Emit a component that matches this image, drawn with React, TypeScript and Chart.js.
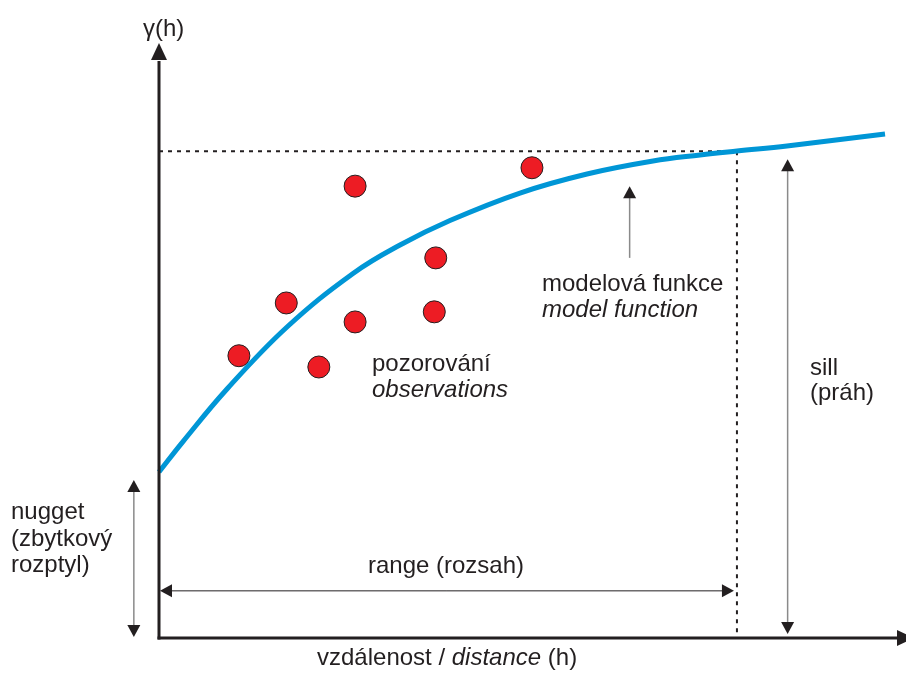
import { useEffect, useRef } from "react";
import { Chart, registerables } from "chart.js";

Chart.register(...registerables);

// Model variogram curve, distance vs gamma
const MODEL_X = [0, 3.24, 9.19, 17.3, 26.22, 32.57, 39.32, 48.78, 57.84, 66.76, 73.11, 78.11, 84.86, 98.11];
const MODEL_Y = [28.0, 33.12, 41.99, 52.45, 61.47, 66.27, 70.4, 75.04, 78.25, 80.44, 81.45, 82.12, 82.97, 84.99];

// Observations
const OBS_X = [10.8, 17.2, 21.6, 26.5, 26.5, 37.2, 37.4, 50.4];
const OBS_Y = [47.6, 56.5, 45.7, 76.2, 53.3, 55.0, 64.1, 79.3];

// Variogram parameters
const SILL = 82.1;
const RANGE = 78.1;
const NUGGET = 28.0;

const INK = "#231f20";
const FONT = '"Liberation Sans", Arial, Helvetica, sans-serif';

function arrowHead(ctx: CanvasRenderingContext2D, tipX: number, tipY: number, dx: number, dy: number, len: number, w: number) {
  const bx = tipX - dx * len;
  const by = tipY - dy * len;
  const px = -dy, py = dx;
  ctx.beginPath();
  ctx.moveTo(tipX, tipY);
  ctx.lineTo(bx + px * w / 2, by + py * w / 2);
  ctx.lineTo(bx - px * w / 2, by - py * w / 2);
  ctx.closePath();
  ctx.fill();
}

function arrow(ctx: CanvasRenderingContext2D, x1: number, y1: number, x2: number, y2: number, both: boolean, shaftColor: string, shaftWidth: number, len: number, w: number) {
  const L = Math.hypot(x2 - x1, y2 - y1);
  const dx = (x2 - x1) / L, dy = (y2 - y1) / L;
  const sx = both ? x1 + dx * len * 0.8 : x1;
  const sy = both ? y1 + dy * len * 0.8 : y1;
  const ex = x2 - dx * len * 0.8, ey = y2 - dy * len * 0.8;
  ctx.save();
  ctx.strokeStyle = shaftColor;
  ctx.lineWidth = shaftWidth;
  ctx.setLineDash([]);
  ctx.beginPath();
  ctx.moveTo(sx, sy);
  ctx.lineTo(ex, ey);
  ctx.stroke();
  ctx.fillStyle = INK;
  arrowHead(ctx, x2, y2, dx, dy, len, w);
  if (both) arrowHead(ctx, x1, y1, -dx, -dy, len, w);
  ctx.restore();
}

function text(ctx: CanvasRenderingContext2D, parts: [string, boolean][], x: number, y: number, align: "left" | "center" = "left", size = 24) {
  ctx.save();
  ctx.fillStyle = INK;
  ctx.textBaseline = "alphabetic";
  ctx.textAlign = "left";
  let total = 0;
  const widths = parts.map(([s, it]) => {
    ctx.font = `${it ? "italic " : ""}${size}px ${FONT}`;
    const w = ctx.measureText(s).width;
    total += w;
    return w;
  });
  let cx = align === "center" ? x - total / 2 : x;
  parts.forEach(([s, it], i) => {
    ctx.font = `${it ? "italic " : ""}${size}px ${FONT}`;
    ctx.fillText(s, cx, y);
    cx += widths[i];
  });
  ctx.restore();
}

const variogramPlugin = {
  id: "variogram",
  beforeDatasetsDraw(chart: any) {
    const { ctx, scales } = chart;
    const x = scales.x, y = scales.y;
    ctx.save();
    ctx.strokeStyle = INK;
    ctx.lineWidth = 2;
    ctx.setLineDash([4, 5]);
    ctx.beginPath();
    ctx.moveTo(x.getPixelForValue(0), y.getPixelForValue(SILL));
    ctx.lineTo(x.getPixelForValue(RANGE), y.getPixelForValue(SILL));
    ctx.stroke();
    ctx.beginPath();
    ctx.moveTo(x.getPixelForValue(RANGE), y.getPixelForValue(SILL));
    ctx.lineTo(x.getPixelForValue(RANGE), y.getPixelForValue(0));
    ctx.stroke();
    ctx.restore();
  },
  afterDatasetsDraw(chart: any) {
    const { ctx, scales, chartArea } = chart;
    const x = scales.x, y = scales.y;
    const x0 = x.getPixelForValue(0);
    const y0 = y.getPixelForValue(0);
    const gray = "#8a8a8a";

    // Axes
    ctx.save();
    ctx.strokeStyle = INK;
    ctx.fillStyle = INK;
    ctx.lineWidth = 3;
    ctx.beginPath();
    ctx.moveTo(x0, y0 + 1.5);
    ctx.lineTo(x0, chartArea.top + 16);
    ctx.stroke();
    arrowHead(ctx, x0, chartArea.top - 2, 0, -1, 17, 16);
    ctx.beginPath();
    ctx.moveTo(x0 - 1.5, y0);
    ctx.lineTo(chartArea.right, y0);
    ctx.stroke();
    arrowHead(ctx, chartArea.right + 15, y0, 1, 0, 17, 16);
    ctx.restore();

    // Model function pointer
    const mx = x.getPixelForValue(63.6);
    arrow(ctx, mx, y.getPixelForValue(64.1), mx, y.getPixelForValue(76.2), false, gray, 1.5, 12, 13);

    // Sill double arrow
    const sx = x.getPixelForValue(84.95);
    arrow(ctx, sx, y0 - 4, sx, y.getPixelForValue(SILL) + 8, true, gray, 1.5, 12, 13);

    // Nugget double arrow
    const nx = x.getPixelForValue(-3.4);
    arrow(ctx, nx, y0 - 1, nx, y.getPixelForValue(NUGGET) + 8, true, gray, 1.5, 12, 13);

    // Range double arrow
    const ry = y.getPixelForValue(7.95);
    arrow(ctx, x0 + 1, ry, x.getPixelForValue(RANGE) - 3, ry, true, INK, 1, 12, 13);
  },
  afterDraw(chart: any) {
    const { ctx } = chart;
    text(ctx, [["γ(h)", false]], 143, 36);
    text(ctx, [["modelová funkce", false]], 542, 291);
    text(ctx, [["model function", true]], 542, 317);
    text(ctx, [["pozorování", false]], 372, 371);
    text(ctx, [["observations", true]], 372, 397);
    text(ctx, [["sill", false]], 810, 375);
    text(ctx, [["(práh)", false]], 810, 400);
    text(ctx, [["nugget", false]], 11, 519);
    text(ctx, [["(zbytkový", false]], 11, 546);
    text(ctx, [["rozptyl)", false]], 11, 572);
    text(ctx, [["range (rozsah)", false]], 446, 573, "center");
    text(ctx, [["vzdálenost / ", false], ["distance", true], [" (h)", false]], 317, 665);
  },
};

export default function App() {
  const ref = useRef<HTMLCanvasElement | null>(null);
  useEffect(() => {
    if (!ref.current) return;
    const chart = new Chart(ref.current, {
      type: "scatter",
      data: {
        datasets: [
          {
            type: "line",
            data: MODEL_X.map((v, i) => ({ x: v, y: MODEL_Y[i] })),
            borderColor: "#0096d6",
            borderWidth: 5,
            pointRadius: 0,
            tension: 0.4,
            fill: false,
            clip: false,
            borderCapStyle: "butt",
            order: 2,
          } as any,
          {
            type: "scatter",
            data: OBS_X.map((v, i) => ({ x: v, y: OBS_Y[i] })),
            backgroundColor: "#ed1c24",
            borderColor: INK,
            borderWidth: 1,
            pointRadius: 11,
            clip: false,
            order: 1,
          } as any,
        ],
      },
      options: {
        animation: false,
        responsive: false,
        events: [],
        layout: { autoPadding: false, padding: { left: 159, right: 7, top: 45, bottom: 37 } },
        scales: {
          x: { type: "linear", min: 0, max: 100, display: false },
          y: { type: "linear", min: 0, max: 100, display: false },
        },
        plugins: { legend: { display: false }, tooltip: { enabled: false } },
      },
      plugins: [variogramPlugin],
    });
    return () => chart.destroy();
  }, []);
  return (
    <div style={{ position: "absolute", left: 0, top: 0, width: 906, height: 675, background: "#fff" }}>
      <canvas ref={ref} width={906} height={675} style={{ display: "block" }} />
    </div>
  );
}
